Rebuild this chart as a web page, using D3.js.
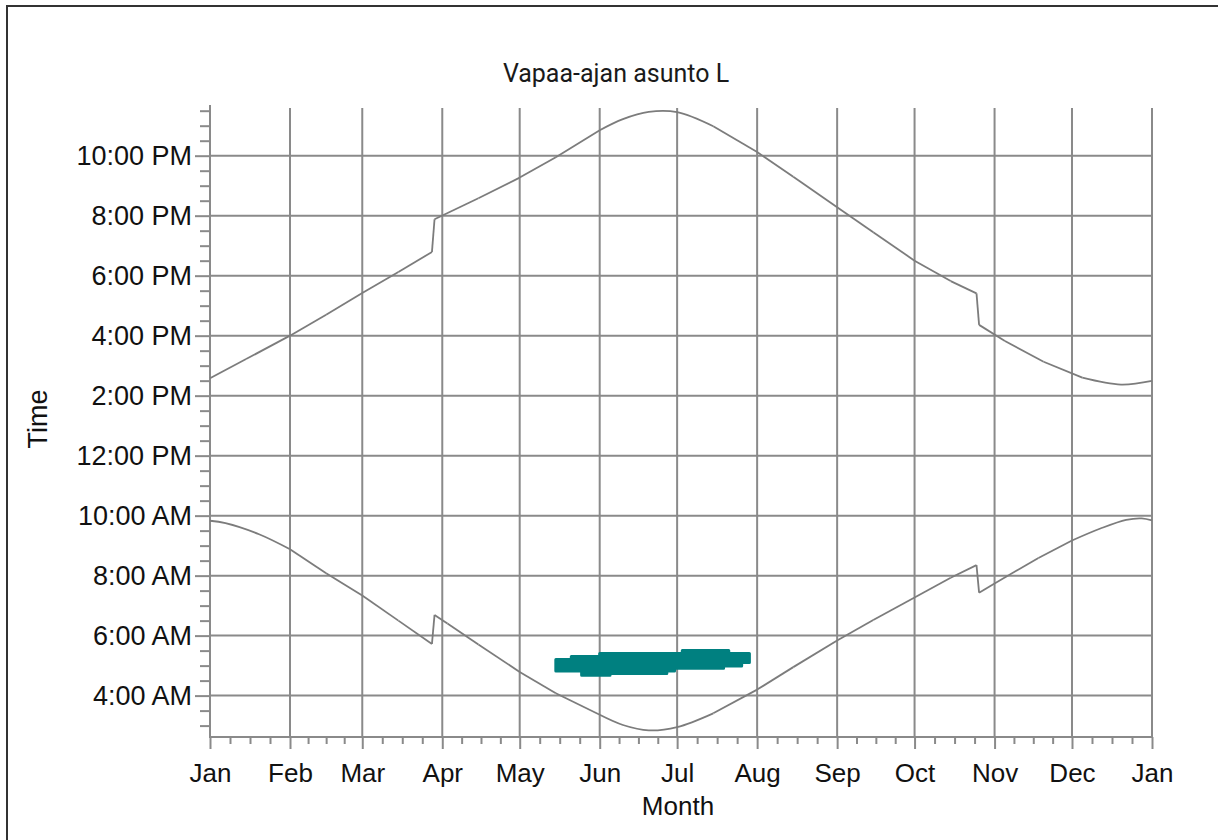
<!DOCTYPE html>
<html>
<head>
<meta charset="utf-8">
<script src="https://cdn.jsdelivr.net/npm/d3@7"></script>
<style>
  body { margin: 0; background: #fff; }
  text { font-family: "Liberation Sans", Arial, sans-serif; fill: #111; }
</style>
</head>
<body>
<div class="chart"></div>
<script>
const monthLabels = ['Jan', 'Feb', 'Mar', 'Apr', 'May', 'Jun', 'Jul', 'Aug', 'Sep', 'Oct', 'Nov', 'Dec', 'Jan'];
const yTicks = [4, 6, 8, 10, 12, 14, 16, 18, 20, 22];
const yTickLabels = ['4:00 AM', '6:00 AM', '8:00 AM', '10:00 AM', '12:00 PM', '2:00 PM',
                     '4:00 PM', '6:00 PM', '8:00 PM', '10:00 PM'];

// evening line (hours of day)
const eveningDates = ['2009-01-01', '2009-01-15', '2009-02-01', '2009-02-15', '2009-03-01', '2009-03-15',
  '2009-03-28', '2009-03-29', '2009-04-15', '2009-05-01', '2009-05-15', '2009-06-01',
  '2009-06-10', '2009-06-20', '2009-07-01', '2009-07-15', '2009-08-01', '2009-08-15', '2009-09-01',
  '2009-09-15', '2009-10-01', '2009-10-15', '2009-10-25', '2009-10-26', '2009-11-05', '2009-11-20',
  '2009-12-05', '2009-12-20', '2010-01-01'];
const eveningHours = [14.58, 15.22, 16.00, 16.70, 17.42, 18.12,
  18.79, 19.88, 20.58, 21.27, 21.95, 22.85,
  23.22, 23.46, 23.45, 22.98, 22.12, 21.30, 20.28,
  19.45, 18.50, 17.82, 17.41, 16.36, 15.82, 15.13,
  14.60, 14.37, 14.49];

// morning line
const morningDates = ['2009-01-01', '2009-01-07', '2009-01-20', '2009-02-01', '2009-02-15', '2009-03-01',
  '2009-03-15', '2009-03-28', '2009-03-29', '2009-04-03', '2009-04-15', '2009-05-01', '2009-05-15',
  '2009-06-01', '2009-06-10', '2009-06-20', '2009-07-01', '2009-07-15', '2009-08-01', '2009-08-15',
  '2009-09-01', '2009-09-15', '2009-10-01', '2009-10-15', '2009-10-25', '2009-10-26', '2009-11-01',
  '2009-11-18', '2009-12-01', '2009-12-12', '2009-12-22', '2009-12-28', '2010-01-01'];
const morningHours = [9.83, 9.75, 9.38, 8.88, 8.08, 7.34,
  6.50, 5.72, 6.69, 6.40, 5.70, 4.79, 4.08,
  3.36, 3.02, 2.84, 2.95, 3.41, 4.20, 4.95,
  5.84, 6.52, 7.27, 7.93, 8.35, 7.43, 7.74,
  8.59, 9.17, 9.57, 9.86, 9.91, 9.84];

// teal band
const bandDates = ['2009-05-15', '2009-05-21', '2009-05-25', '2009-06-01', '2009-06-05', '2009-06-27',
  '2009-06-30', '2009-07-03', '2009-07-19', '2009-07-21', '2009-07-26', '2009-07-29'];
const bandHigh = [5.20, 5.30, 5.30, 5.40, 5.40, 5.40, 5.40, 5.50, 5.50, 5.40, 5.40, 5.40];
const bandLow = [4.82, 4.82, 4.68, 4.68, 4.74, 4.82, 4.91, 4.91, 4.99, 4.99, 5.10, 5.10];

const parse = d3.timeParse('%Y-%m-%d');
const W = 1218, H = 840;
const margin = {left: 210, right: 1152, top: 105, bottom: 737};
const grey = '#8a8a8a';

let svg = d3.select('.chart')
  .append('svg')
    .attr('width', W)
    .attr('height', H);

svg.append('rect')
  .attr('x', 7).attr('y', 6)
  .attr('width', W).attr('height', H)
  .style('fill', 'none')
  .style('stroke', '#333')
  .style('stroke-width', 2);

let x = d3.scaleTime()
  .domain([parse('2009-01-01'), parse('2010-01-01')])
  .range([margin.left, margin.right]);

let y = d3.scaleLinear()
  .domain([2.62, 23.69])
  .range([margin.bottom, margin.top]);

// gridlines
svg.append('g')
  .selectAll('line')
  .data(yTicks)
  .join('line')
    .attr('x1', margin.left).attr('x2', margin.right + 1)
    .attr('y1', d => y(d)).attr('y2', d => y(d))
    .style('stroke', grey).style('stroke-width', 2);

let months = d3.timeMonth.range(parse('2009-01-01'), parse('2010-01-02'));
svg.append('g')
  .selectAll('line')
  .data(months.slice(1))
  .join('line')
    .attr('x1', d => x(d)).attr('x2', d => x(d))
    .attr('y1', margin.top + 3).attr('y2', margin.bottom)
    .style('stroke', grey).style('stroke-width', 2);

// y axis
let yMinor = d3.range(3, 23.6, 0.5).filter(d => d % 2 !== 0);
let yAxisMinor = d3.axisLeft(y).tickValues(yMinor).tickSize(10).tickFormat('');
svg.append('g')
  .attr('transform', `translate(${margin.left}, 0)`)
  .call(yAxisMinor)
  .call(g => g.select('.domain').remove());

let yAxis = d3.axisLeft(y)
  .tickValues(yTicks)
  .tickSize(15)
  .tickPadding(3)
  .tickFormat((d, i) => yTickLabels[i]);
svg.append('g')
  .attr('class', 'yaxis')
  .attr('transform', `translate(${margin.left}, 0)`)
  .call(yAxis)
  .call(g => g.select('.domain').remove());

// x axis, minor ticks at quarter months
let xMinor = [];
months.slice(0, 12).forEach(m => {
  let next = d3.timeMonth.offset(m, 1);
  for (let k = 1; k < 4; k++) xMinor.push(new Date(+m + (next - m) * k / 4));
});
let xAxisMinor = d3.axisBottom(x).tickValues(xMinor).tickSize(7).tickFormat('');
svg.append('g')
  .attr('transform', `translate(0, ${margin.bottom})`)
  .call(xAxisMinor)
  .call(g => g.select('.domain').remove());

let xAxis = d3.axisBottom(x)
  .tickValues(months)
  .tickSize(12)
  .tickPadding(15)
  .tickFormat((d, i) => monthLabels[i]);
svg.append('g')
  .attr('class', 'xaxis')
  .attr('transform', `translate(0, ${margin.bottom})`)
  .call(xAxis)
  .call(g => g.select('.domain').remove());

svg.selectAll('.tick line').style('stroke', grey).style('stroke-width', 2);
svg.selectAll('.yaxis text').style('font-size', '27px').style('font-family', '"Liberation Sans", Arial, sans-serif').style('fill', '#111');
svg.selectAll('.xaxis text').style('font-size', '26px').style('font-family', '"Liberation Sans", Arial, sans-serif').style('fill', '#111');

// axis lines
svg.append('line')
  .attr('x1', margin.left).attr('x2', margin.left).attr('y1', margin.top).attr('y2', margin.bottom + 1)
  .style('stroke', grey).style('stroke-width', 2);
svg.append('line')
  .attr('x1', margin.left).attr('x2', margin.right + 1).attr('y1', margin.bottom).attr('y2', margin.bottom)
  .style('stroke', grey).style('stroke-width', 2);

// band
let band = bandDates.map((d, i) => ({date: parse(d), lo: bandLow[i], hi: bandHigh[i]}));
svg.append('path')
  .datum(band)
  .attr('d', d3.area().curve(d3.curveStepAfter)
    .x(d => x(d.date)).y0(d => y(d.lo)).y1(d => y(d.hi)))
  .style('fill', '#008080')
  .style('stroke', '#008080')
  .style('stroke-width', 3)
  .style('stroke-linejoin', 'round');

// lines: smooth pieces, straight across the clock changes
let smooth = d3.line().curve(d3.curveCatmullRom.alpha(0.5)).x(d => x(d.date)).y(d => y(d.h));
let straight = d3.line().x(d => x(d.date)).y(d => y(d.h));
[[eveningDates, eveningHours], [morningDates, morningHours]].forEach(([ds, hs]) => {
  let pts = ds.map((d, i) => ({date: parse(d), h: hs[i]}));
  let pieces = [[pts[0]]];
  for (let i = 1; i < pts.length; i++) {
    if (Math.abs(pts[i].h - pts[i - 1].h) > 0.5) {
      svg.append('path').datum([pts[i - 1], pts[i]]).attr('d', straight).attr('class', 'sun');
      pieces.push([]);
    }
    pieces[pieces.length - 1].push(pts[i]);
  }
  pieces.forEach(p => svg.append('path').datum(p).attr('d', smooth).attr('class', 'sun'));
});
svg.selectAll('.sun')
  .style('fill', 'none')
  .style('stroke', '#7c7c7c')
  .style('stroke-width', 1.8);

// titles
svg.append('text')
  .attr('x', 616).attr('y', 82)
  .attr('text-anchor', 'middle')
  .style('font-family', 'Roboto, sans-serif')
  .style('font-size', '25px')
  .style('fill', '#1a1a1a')
  .text('Vapaa-ajan asunto L');

svg.append('text')
  .attr('x', 678).attr('y', 815)
  .attr('text-anchor', 'middle')
  .style('font-size', '26px')
  .text('Month');

svg.append('text')
  .attr('transform', 'translate(47, 419) rotate(-90)')
  .attr('text-anchor', 'middle')
  .style('font-size', '27px')
  .text('Time');
</script>
</body>
</html>
